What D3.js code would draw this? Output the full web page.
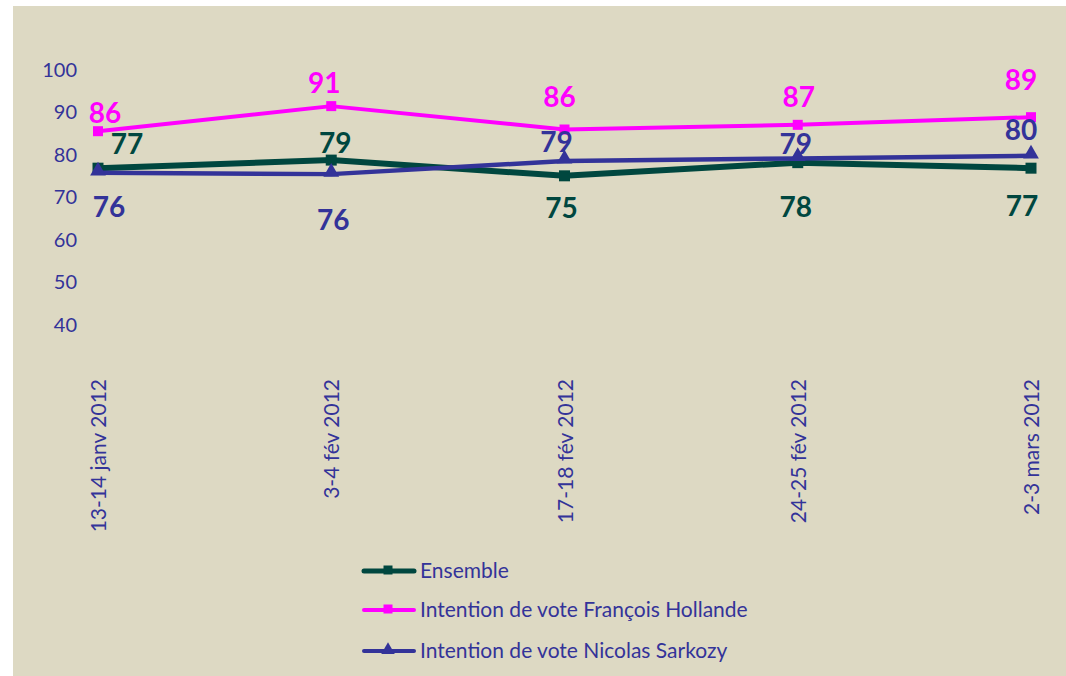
<!DOCTYPE html>
<html lang="fr">

<head>
    <meta charset="utf-8">
    <style>
        body { margin: 0; background: #ffffff; }
        text { font-family: Lato, "Open Sans", sans-serif; }
    </style>
</head>

<body>
    <!-- Load d3.js -->
    <script src="https://d3js.org/d3.v7.min.js"></script>
    <div id="my_dataviz"></div>
    <script>
        var width = 1066, height = 676

        var svg = d3.select("#my_dataviz")
            .append("svg")
            .attr("width", width)
            .attr("height", height)

        // tan background of the chart area
        svg.append("rect")
            .attr("x", 13).attr("y", 6)
            .attr("width", width - 13).attr("height", height - 6)
            .style("fill", "#ddd9c3")

        var dates = ["13-14 janv 2012", "3-4 fév 2012", "17-18 fév 2012", "24-25 fév 2012", "2-3 mars 2012"]

        // values + manual label offsets (px) from the point
        var series = [
            {
                name: "Ensemble", color: "#00473f", width: 6, marker: "square", size: 11,
                values: [76.9, 78.8, 75.1, 78.2, 76.9],
                labels: [77, 79, 75, 78, 77],
                off: [[29, -24], [4, -17], [-3, 32], [-2, 44], [-9, 38]]
            },
            {
                name: "Intention de vote François Hollande", color: "#ff00ff", width: 4, marker: "square", size: 10,
                values: [85.6, 91.5, 86.0, 87.1, 88.9],
                labels: [86, 91, 86, 87, 89],
                off: [[7, -18], [-7, -23], [-5, -33], [1, -28], [-10, -37]]
            },
            {
                name: "Intention de vote Nicolas Sarkozy", color: "#333399", width: 4.5, marker: "triangle", size: 14,
                values: [75.8, 75.5, 78.6, 79.2, 79.8],
                labels: [76, 76, 79, 79, 80],
                off: [[11, 34], [2, 46], [-8, -19], [-2, -14], [-10, -26]]
            }
        ]

        var x = d3.scalePoint()
            .domain(dates)
            .range([98, 1031])

        var y = d3.scaleLinear()
            .domain([40, 100])
            .range([325, 70])

        // Y axis: labels only
        var yAxis = svg.append("g")
            .attr("transform", "translate(77,0)")
            .call(d3.axisLeft(y).tickValues(d3.range(40, 101, 10)).tickSize(0).tickPadding(0))
        yAxis.select(".domain").remove()
        yAxis.selectAll("text")
            .style("font-size", "20px")
            .style("fill", "#333399")
            .style("font-family", "Lato, sans-serif")

        // X labels, rotated
        svg.append("g")
            .selectAll("text")
            .data(dates)
            .enter()
            .append("text")
            .attr("transform", function (d) { return "translate(" + (x(d) + 8) + ",379) rotate(-90)" })
            .attr("text-anchor", "end")
            .style("font-size", "21px")
            .style("fill", "#333399")
            .text(function (d) { return d })

        var line = d3.line()
            .x(function (d) { return x(d.date) })
            .y(function (d) { return y(d.value) })

        function markerPath(type, size) {
            if (type == "triangle") return d3.symbol().type(d3.symbolTriangle).size(size * size * 0.55)()
            var h = size / 2
            return "M" + (-h) + "," + (-h) + "h" + size + "v" + size + "h" + (-size) + "z"
        }

        // lines + markers
        series.forEach(function (s) {
            var pts = s.values.map(function (v, i) { return { date: dates[i], value: v } })
            svg.append("path")
                .datum(pts)
                .attr("d", line)
                .style("fill", "none")
                .style("stroke", s.color)
                .style("stroke-width", s.width)
                .style("stroke-linejoin", "round")

            svg.append("g")
                .selectAll("path")
                .data(pts)
                .enter()
                .append("path")
                .attr("d", markerPath(s.marker, s.size))
                .attr("transform", function (d) { return "translate(" + x(d.date) + "," + (y(d.value) - (s.marker == "triangle" ? 2 : 0)) + ")" })
                .style("fill", s.color)
        })

        // data labels
        series.forEach(function (s) {
            svg.append("g")
                .selectAll("text")
                .data(s.values)
                .enter()
                .append("text")
                .attr("x", function (d, i) { return x(dates[i]) + s.off[i][0] })
                .attr("y", function (d, i) { return y(d) + s.off[i][1] })
                .attr("dy", "0.36em")
                .attr("text-anchor", "middle")
                .style("font-size", "28px")
                .style("font-weight", "bold")
                .style("fill", s.color)
                .text(function (d, i) { return s.labels[i] })
        })

        // legend
        var legend = svg.append("g")
            .selectAll("g")
            .data(series)
            .enter()
            .append("g")
            .attr("transform", function (d, i) { return "translate(0," + [571, 610, 651][i] + ")" })

        legend.append("line")
            .attr("x1", 364).attr("x2", 414)
            .style("stroke", function (d) { return d.color })
            .style("stroke-width", function (d) { return d.width == 6 ? 5 : 4 })
            .style("stroke-linecap", "round")
        legend.append("path")
            .attr("d", function (d) { return markerPath(d.marker, d.marker == "triangle" ? 12 : 9) })
            .attr("transform", "translate(388,-1)")
            .style("fill", function (d) { return d.color })
        legend.append("text")
            .attr("x", 420)
            .attr("dy", "0.35em")
            .style("font-size", "21px")
            .style("fill", "#333399")
            .text(function (d) { return d.name })
    </script>
</body>

</html>
